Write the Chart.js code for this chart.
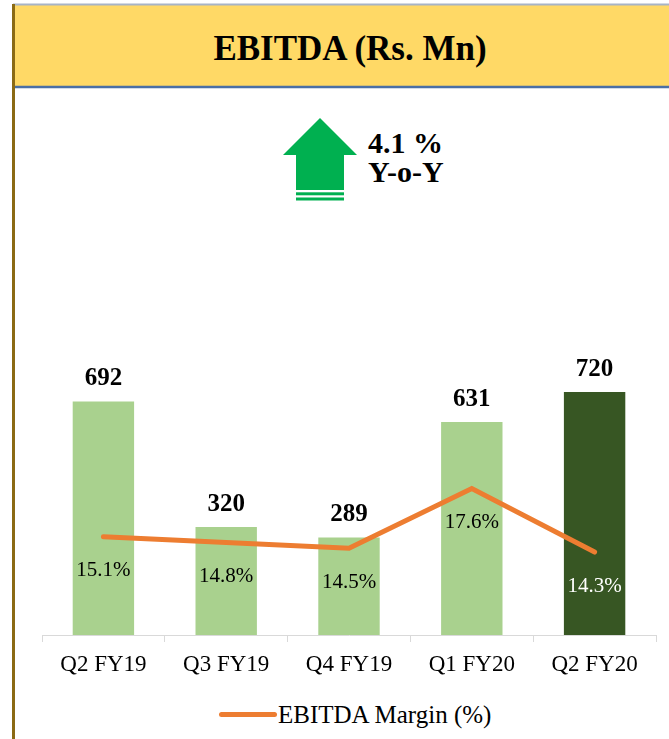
<!DOCTYPE html>
<html>
<head>
<meta charset="utf-8">
<script src="https://cdn.jsdelivr.net/npm/chart.js@4/dist/chart.umd.min.js"></script>
<style>
  html, body { margin: 0; padding: 0; background: #fff; }
  #wrap { position: relative; width: 669px; height: 739px; overflow: hidden; }
  #deco { position: absolute; left: 0; top: 0; }
  #c { position: absolute; left: 0; top: 0; }
</style>
</head>
<body>
<div id="wrap">
  <svg id="deco" width="669" height="739" xmlns="http://www.w3.org/2000/svg">
    <rect x="14" y="5" width="660" height="82" fill="#FFD966"/>
    <line x1="13" y1="4.5" x2="669" y2="4.5" stroke="#A7B4C6" stroke-width="2"/>
    <line x1="14" y1="87" x2="669" y2="87" stroke="#4A6FA5" stroke-width="2.5"/>
    <line x1="13.5" y1="4" x2="13.5" y2="739" stroke="#8B6A14" stroke-width="3"/>
    <text x="350" y="60" text-anchor="middle" font-family="'Liberation Serif', 'Times New Roman', serif" font-weight="bold" font-size="35" fill="#000">EBITDA (Rs. Mn)</text>
    <polygon points="320,118 357,155 344,155 344,190 296,190 296,155 283,155" fill="#00B050"/>
    <rect x="296" y="192.3" width="48" height="3" fill="#00B050"/>
    <rect x="296" y="197.5" width="48" height="3" fill="#00B050"/>
    <text x="368" y="153" font-family="'Liberation Serif', 'Times New Roman', serif" font-weight="bold" font-size="30" fill="#000">4.1 %</text>
    <text x="368" y="182" font-family="'Liberation Serif', 'Times New Roman', serif" font-weight="bold" font-size="30" fill="#000">Y-o-Y</text>
    <line x1="221.5" y1="714.5" x2="274.5" y2="714.5" stroke="#ED7D31" stroke-width="5" stroke-linecap="round"/>
    <text x="278" y="723" font-family="'Liberation Serif', 'Times New Roman', serif" font-size="25" fill="#000">EBITDA Margin (%)</text>
  </svg>
  <canvas id="c" width="669" height="739"></canvas>
</div>
<script>
const categories = ['Q2 FY19', 'Q3 FY19', 'Q4 FY19', 'Q1 FY20', 'Q2 FY20'];
const ebitda = [692, 320, 289, 631, 720];
const margin = [15.1, 14.8, 14.5, 17.6, 14.3];
const marginLabels = ['15.1%', '14.8%', '14.5%', '17.6%', '14.3%'];
const barColors = ['#A9D18E', '#A9D18E', '#A9D18E', '#A9D18E', '#375623'];
const marginLabelColors = ['#000', '#000', '#000', '#000', '#fff'];

const SERIF = "'Liberation Serif', 'Times New Roman', serif";

const labelPlugin = {
  id: 'valueLabels',
  afterDatasetsDraw(chart) {
    const ctx = chart.ctx;
    ctx.save();
    ctx.textAlign = 'center';
    ctx.textBaseline = 'alphabetic';
    const barMeta = chart.getDatasetMeta(1);
    ctx.font = 'bold 25px ' + SERIF;
    ctx.fillStyle = '#000';
    barMeta.data.forEach((el, i) => {
      ctx.fillText(String(ebitda[i]), el.x, el.y - 16);
    });
    const lineMeta = chart.getDatasetMeta(0);
    ctx.font = '21px ' + SERIF;
    lineMeta.data.forEach((el, i) => {
      ctx.fillStyle = marginLabelColors[i];
      ctx.fillText(marginLabels[i], el.x, el.y + 39.5);
    });
    ctx.restore();
  }
};

new Chart(document.getElementById('c'), {
  data: {
    labels: categories,
    datasets: [
      {
        type: 'line',
        label: 'EBITDA Margin (%)',
        data: margin,
        yAxisID: 'y2',
        borderColor: '#ED7D31',
        backgroundColor: '#ED7D31',
        borderWidth: 5,
        pointRadius: 0,
        pointHoverRadius: 0,
        tension: 0,
        borderCapStyle: 'round',
        borderJoinStyle: 'miter',
        order: 0
      },
      {
        type: 'bar',
        label: 'EBITDA',
        data: ebitda,
        yAxisID: 'y',
        backgroundColor: barColors,
        borderWidth: 0,
        categoryPercentage: 1,
        barPercentage: 0.5,
        order: 1
      }
    ]
  },
  options: {
    responsive: false,
    animation: false,
    devicePixelRatio: 1,
    layout: { padding: { left: 42, right: 13, top: 365, bottom: 54 } },
    plugins: {
      legend: { display: false },
      tooltip: { enabled: false },
      title: { display: false }
    },
    scales: {
      x: {
        offset: true,
        grid: {
          display: true,
          offset: true,
          drawOnChartArea: false,
          drawTicks: true,
          tickLength: 7,
          color: '#D9D9D9',
          lineWidth: 1
        },
        border: { display: true, color: '#D9D9D9', width: 1 },
        ticks: {
          color: '#000',
          font: { family: SERIF, size: 23 },
          padding: 9,
          maxRotation: 0
        },
        afterFit(scale) { scale.height = 50; }
      },
      y: {
        display: false,
        min: 0,
        max: 800
      },
      y2: {
        display: false,
        position: 'right',
        min: 10,
        max: 24
      }
    }
  },
  plugins: [labelPlugin]
});
</script>
</body>
</html>
